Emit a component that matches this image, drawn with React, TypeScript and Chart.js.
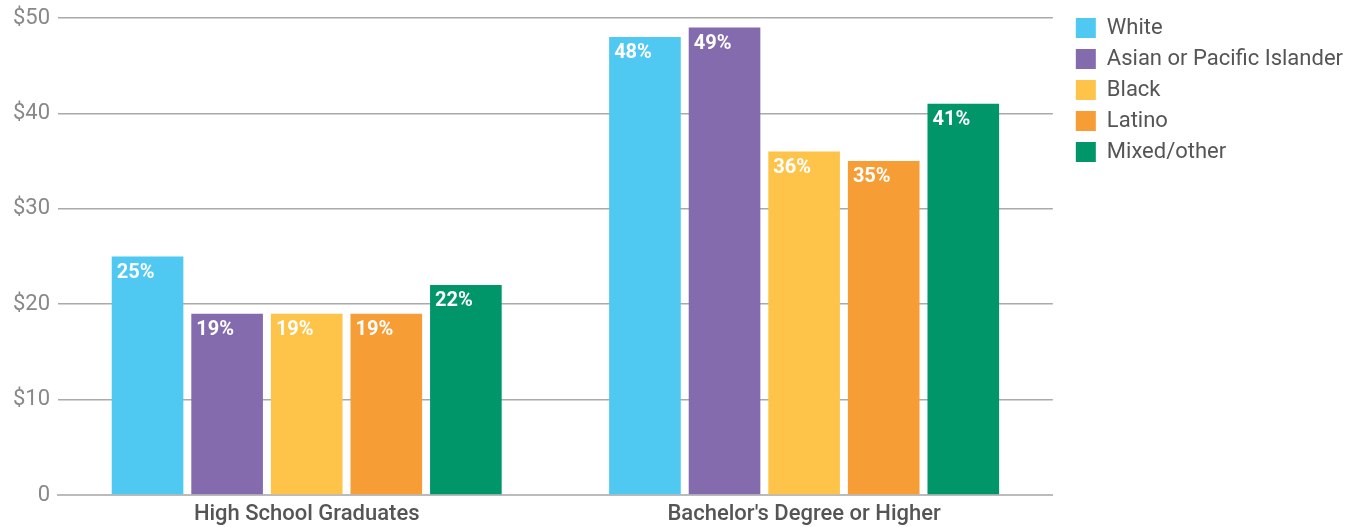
import React, { useEffect, useRef } from "react";
import { Chart, registerables } from "chart.js";

Chart.register(...registerables);

const categories = ["High School Graduates", "Bachelor's Degree or Higher"];
const seriesNames = ["White", "Asian or Pacific Islander", "Black", "Latino", "Mixed/other"];
const white = [25, 48];
const asian = [19, 49];
const black = [19, 36];
const latino = [19, 35];
const mixed = [22, 41];
const seriesColors = ["#4FC8F2", "#846BAE", "#FEC44A", "#F69D36", "#00966A"];
const yTicks = [0, 10, 20, 30, 40, 50];

const FONT = "Roboto, 'DejaVu Sans', sans-serif";

const barLabelPlugin = {
  id: "barLabels",
  afterDatasetsDraw(chart: any) {
    const ctx = chart.ctx;
    ctx.save();
    ctx.fillStyle = "#ffffff";
    ctx.font = `bold 20px ${FONT}`;
    ctx.textAlign = "left";
    ctx.textBaseline = "top";
    chart.data.datasets.forEach((ds: any, di: number) => {
      const meta = chart.getDatasetMeta(di);
      meta.data.forEach((bar: any, i: number) => {
        const left = bar.x - bar.width / 2;
        ctx.fillText(`${ds.data[i]}%`, left + 5, bar.y + 6);
      });
    });
    ctx.restore();
  },
};

export default function App() {
  const ref = useRef<HTMLCanvasElement | null>(null);
  useEffect(() => {
    if (!ref.current) return;
    const values = [white, asian, black, latino, mixed];
    const chart = new Chart(ref.current, {
      type: "bar",
      data: {
        labels: categories,
        datasets: seriesNames.map((name, i) => ({
          label: name,
          data: values[i],
          backgroundColor: seriesColors[i],
          borderWidth: 0,
          barPercentage: 0.9,
          categoryPercentage: 0.8,
        })),
      },
      options: {
        animation: false,
        responsive: false,
        maintainAspectRatio: false,
        layout: { padding: { top: 8, left: 0, right: 8, bottom: 0 } },
        plugins: {
          tooltip: { enabled: false },
          legend: {
            position: "right",
            align: "start",
            maxWidth: 420,
            labels: {
              boxWidth: 20,
              boxHeight: 20,
              padding: 9,
              color: "#555555",
              font: { family: FONT, size: 22 },
            },
          },
        },
        scales: {
          x: {
            grid: { display: false, drawTicks: false },
            border: { display: true, color: "#bbbbbb", width: 2 },
            ticks: { color: "#555555", font: { family: FONT, size: 22, weight: "500" }, padding: 6 },
            afterFit: (s: any) => { s.height = 32; },
          },
          xTop: {
            position: "top",
            display: true,
            grid: { display: false, drawTicks: false },
            border: { display: false },
            ticks: { display: false },
            afterFit: (s: any) => { s.height = 10; },
          },
          y: {
            min: 0,
            max: 50,
            afterFit: (s: any) => { s.width = 58; },
            afterBuildTicks: (s: any) => { s.ticks = yTicks.map((v) => ({ value: v })); },
            grid: { color: "#aaaaaa", lineWidth: 1.5, drawTicks: false },
            border: { display: false },
            ticks: {
              color: "#888888",
              padding: 8,
              font: { family: FONT, size: 22, lineHeight: 0.9 },
              callback: (v: any) => (Number(v) === 0 ? "0" : `$${v}`),
            },
          },
          yRight: {
            position: "right",
            display: true,
            grid: { display: false, drawTicks: false },
            border: { display: false },
            ticks: { display: false },
            afterFit: (s: any) => { s.width = 14; },
          },
        },
      },
      plugins: [barLabelPlugin],
    });
    return () => chart.destroy();
  }, []);
  return (
    <div style={{ position: "absolute", left: 0, top: 0, width: 1361, height: 527 }}>
      <canvas ref={ref} width={1361} height={527} />
    </div>
  );
}
